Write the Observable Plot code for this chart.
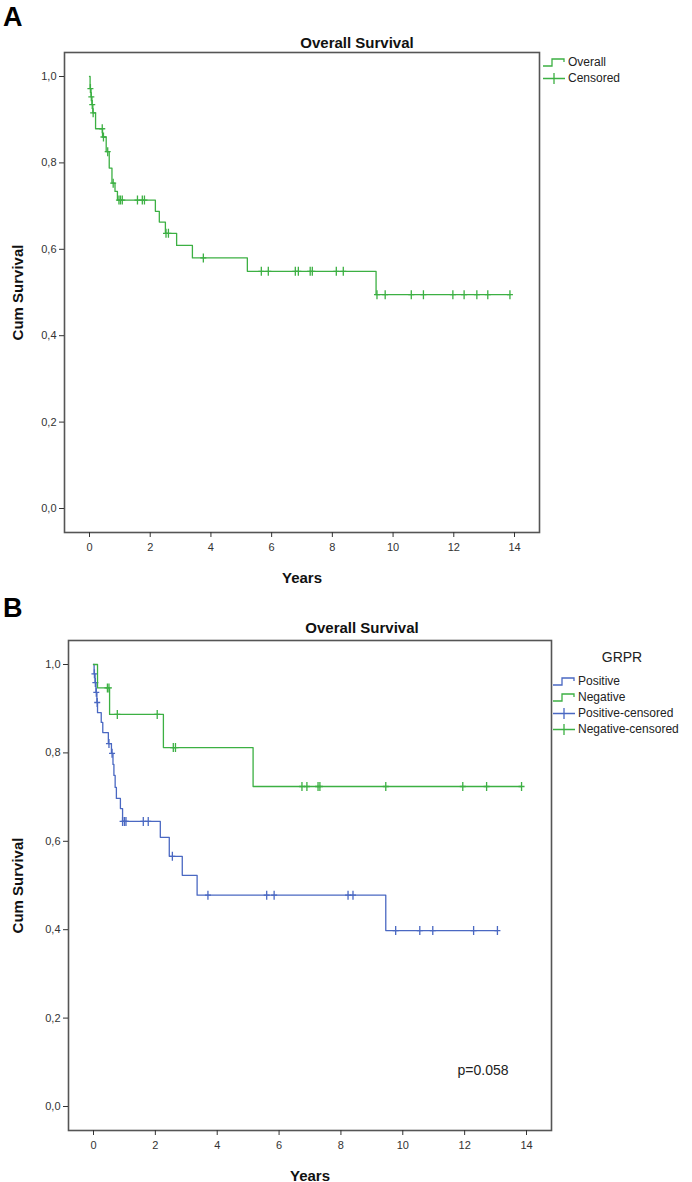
<!DOCTYPE html>
<html><head><meta charset="utf-8">
<script src="https://cdn.jsdelivr.net/npm/d3@7"></script>
<script src="https://cdn.jsdelivr.net/npm/@observablehq/plot@0.6"></script>
<style>
body{margin:0;background:#fff;font-family:"Liberation Sans",Arial,sans-serif;color:#222;}
.panel{position:relative;width:692px;overflow:hidden;}
.panel svg.chart{position:absolute;left:0;top:0;}
.abs{position:absolute;white-space:nowrap;}
.c{transform:translate(-50%,-50%);}
.letter{font-weight:bold;font-size:27px;color:#000;}
.title{font-weight:bold;font-size:15px;color:#111;}
.leg{font-size:12px;color:#222;display:flex;align-items:center;height:16px;}
.leg svg{margin-right:2px;}
</style></head><body>
<div id="A" class="panel" style="height:590px"></div>
<div id="B" class="panel" style="height:592px"></div>
<script>
// ---------- data ----------
const xTicks = [0, 2, 4, 6, 8, 10, 12, 14];
const yTicks = [0, 0.2, 0.4, 0.6, 0.8, 1.0];

// Panel A: overall survival (step times in years, survival after step)
const overallTime = [0, 0.02, 0.05, 0.08, 0.11, 0.2, 0.43, 0.55, 0.65, 0.74, 0.84, 0.92, 2.17, 2.3, 2.5, 2.87, 3.39, 5.2, 9.44, 13.85];
const overallSurv = [1.0, 0.972, 0.953, 0.935, 0.916, 0.879, 0.86, 0.826, 0.788, 0.753, 0.734, 0.714, 0.688, 0.663, 0.637, 0.609, 0.58, 0.549, 0.495, 0.495];
const overallCensor = [0.03, 0.06, 0.09, 0.12, 0.42, 0.46, 0.6, 0.78, 0.97, 1.02, 1.08, 1.58, 1.74, 1.81, 2.52, 2.6, 3.75, 5.66, 5.89, 6.78, 6.88, 7.27, 7.34, 8.13, 8.36, 9.47, 9.74, 10.6, 11.0, 11.97, 12.34, 12.76, 13.12, 13.85];

// Panel B: GRPR positive / negative
const posTime = [0, 0.02, 0.05, 0.08, 0.11, 0.13, 0.25, 0.3, 0.48, 0.58, 0.63, 0.66, 0.7, 0.74, 0.87, 0.94, 2.16, 2.45, 2.87, 3.35, 9.45, 13.06];
const posSurv = [1.0, 0.979, 0.959, 0.937, 0.914, 0.891, 0.869, 0.846, 0.821, 0.799, 0.774, 0.749, 0.722, 0.697, 0.674, 0.645, 0.609, 0.566, 0.523, 0.478, 0.398, 0.398];
const posCensor = [0.03, 0.06, 0.09, 0.12, 0.5, 0.6, 0.94, 1.0, 1.05, 1.61, 1.77, 2.55, 3.7, 5.6, 5.84, 8.23, 8.39, 9.77, 10.55, 10.97, 12.29, 13.06];

const negTime = [0, 0.13, 0.52, 2.26, 5.16, 13.84];
const negSurv = [1.0, 0.947, 0.887, 0.812, 0.724, 0.724];
const negCensor = [0.45, 0.5, 0.77, 2.06, 2.58, 2.65, 6.74, 6.9, 7.26, 7.32, 9.45, 11.94, 12.71, 13.84];

const GREEN = "#3cb043";
const BLUE = "#4a68c2";

// ---------- helpers ----------
const steps = (T, S) => T.map((t, i) => ({t, s: S[i]}));
const survAt = (T, S, t) => { let s = S[0]; for (let i = 0; i < T.length; i++) if (T[i] <= t) s = S[i]; return s; };
const cens = (C, T, S) => C.map(t => ({t, s: survAt(T, S, t)}));
const plus = {draw(ctx) { ctx.moveTo(0, -4.5); ctx.lineTo(0, 4.5); ctx.moveTo(-3, 0); ctx.lineTo(3, 0); }};
const comma = d => d.toFixed(1).replace(".", ",");

function km({height, mt, mb, ml, mr, series}) {
  const marks = [
    Plot.frame({stroke: "#555", strokeWidth: 1.6}),
    Plot.axisX({ticks: xTicks, tickFormat: d => String(d), tickSize: 5, tickPadding: 6, label: "Years", labelAnchor: "center", labelArrow: "none", labelOffset: 50}),
    Plot.axisY({ticks: yTicks, tickFormat: comma, tickSize: 5, tickPadding: 3, label: "Cum Survival", labelAnchor: "center", labelArrow: "none", labelOffset: ml - 12})
  ];
  for (const sr of series) {
    marks.push(Plot.line(sr.steps, {x: "t", y: "s", curve: "step-after", stroke: sr.color, strokeWidth: 1.3}));
    marks.push(Plot.dot(sr.cens, {x: "t", y: "s", symbol: plus, r: 4, stroke: sr.color, strokeWidth: 1.3, fill: "none"}));
  }
  const svg = Plot.plot({
    width: 692, height, marginTop: mt, marginBottom: mb, marginLeft: ml, marginRight: mr,
    x: {domain: [0, 14], inset: 25},
    y: {domain: [0, 1], inset: 24},
    style: {fontFamily: '"Liberation Sans", Arial, sans-serif', fontSize: "11px", color: "#333", background: "transparent"},
    marks
  });
  svg.classList.add("chart");
  svg.querySelectorAll('g[aria-label="x-axis label"], g[aria-label="y-axis label"]').forEach(g => {
    g.setAttribute("font-weight", "bold");
    g.setAttribute("font-size", "15px");
    g.setAttribute("fill", "#111");
  });
  return svg;
}

function addText(parent, txt, cls, x, y, center = true, extra = "") {
  const d = document.createElement("div");
  d.className = "abs " + cls + (center ? " c" : "");
  d.style.left = x + "px"; d.style.top = y + "px";
  if (extra) d.style.cssText += extra;
  d.textContent = txt;
  parent.appendChild(d);
  return d;
}
function legendRow(parent, x, y, color, kind, label) {
  const d = document.createElement("div");
  d.className = "abs leg";
  d.style.left = x + "px"; d.style.top = (y - 8) + "px";
  const path = kind === "line" ? "M0,11 H9 V4 H21 V7" : "M0,7.5 H22 M11,2 V13";
  d.innerHTML = `<svg width="23" height="15"><path d="${path}" fill="none" stroke="${color}" stroke-width="1.3"/></svg><span>${label}</span>`;
  parent.appendChild(d);
}

// ---------- Panel A ----------
const A = document.getElementById("A");
A.appendChild(km({height: 590, mt: 52, mb: 58, ml: 64, mr: 153,
  series: [{steps: steps(overallTime, overallSurv), cens: cens(overallCensor, overallTime, overallSurv), color: GREEN}]}));
addText(A, "A", "letter", 3, 2, false);
addText(A, "Overall Survival", "title", 357, 42);
legendRow(A, 543, 62, GREEN, "line", "Overall");
legendRow(A, 543, 78, GREEN, "cens", "Censored");

// ---------- Panel B ----------
const B = document.getElementById("B");
B.appendChild(km({height: 592, mt: 50, mb: 52, ml: 68, mr: 141,
  series: [
    {steps: steps(posTime, posSurv), cens: cens(posCensor, posTime, posSurv), color: BLUE},
    {steps: steps(negTime, negSurv), cens: cens(negCensor, negTime, negSurv), color: GREEN}
  ]}));
addText(B, "B", "letter", 3, 3, false);
addText(B, "Overall Survival", "title", 362, 37);
addText(B, "GRPR", "", 622, 67, true, "font-size:14px;color:#222;");
legendRow(B, 553, 91, BLUE, "line", "Positive");
legendRow(B, 553, 107, GREEN, "line", "Negative");
legendRow(B, 553, 123, BLUE, "cens", "Positive-censored");
legendRow(B, 553, 139, GREEN, "cens", "Negative-censored");
addText(B, "p=0.058", "", 483, 480, true, "font-size:14px;color:#222;");
</script>
</body></html>
